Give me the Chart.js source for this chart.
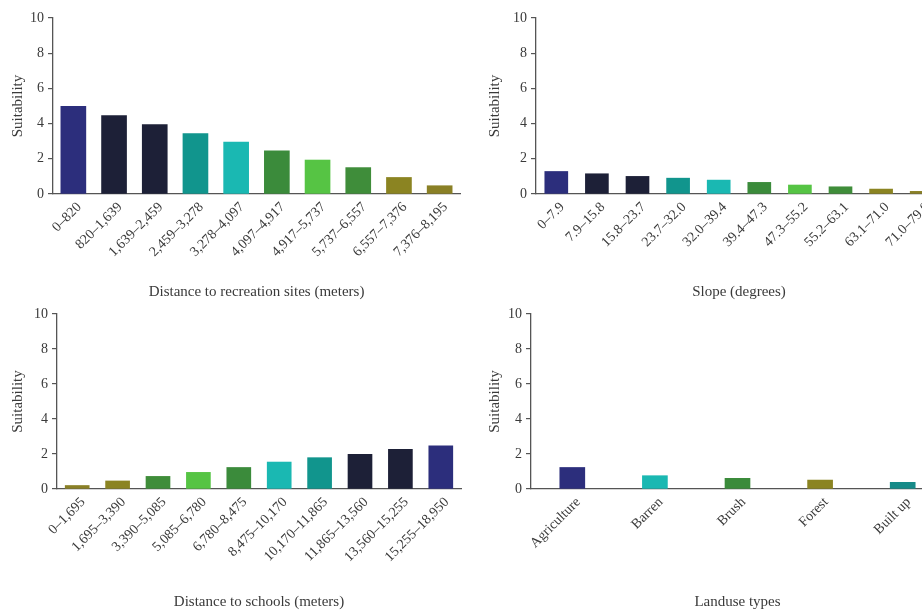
<!DOCTYPE html>
<html>
<head>
<meta charset="utf-8">
<script src="https://cdn.jsdelivr.net/npm/chart.js@4/dist/chart.umd.min.js"></script>
<style>
  html, body { margin: 0; padding: 0; background: #ffffff; overflow: hidden; width: 922px; height: 610px; }
  canvas { position: absolute; }
</style>
</head>
<body>
<canvas id="recreation" style="left:0px;top:0px;width:465px;height:305px" width="465" height="305"></canvas>
<canvas id="slope" style="left:460px;top:0px;width:490px;height:305px" width="490" height="305"></canvas>
<canvas id="schools" style="left:0px;top:300px;width:465px;height:315px" width="465" height="315"></canvas>
<canvas id="landuse" style="left:460px;top:300px;width:488px;height:315px" width="488" height="315"></canvas>
<script>
// Suitability by distance to recreation sites (meters)
const recreationLabels = ['0–820', '820–1,639', '1,639–2,459', '2,459–3,278', '3,278–4,097',
  '4,097–4,917', '4,917–5,737', '5,737–6,557', '6,557–7,376', '7,376–8,195'];
const recreationValues = [4.98, 4.45, 3.95, 3.43, 2.95, 2.45, 1.93, 1.5, 0.94, 0.47];

// Suitability by slope (degrees)
const slopeLabels = ['0–7.9', '7.9–15.8', '15.8–23.7', '23.7–32.0', '32.0–39.4',
  '39.4–47.3', '47.3–55.2', '55.2–63.1', '63.1–71.0', '71.0–79.0'];
const slopeValues = [1.28, 1.15, 1.0, 0.9, 0.79, 0.66, 0.51, 0.41, 0.28, 0.15];

// Suitability by distance to schools (meters)
const schoolLabels = ['0–1,695', '1,695–3,390', '3,390–5,085', '5,085–6,780', '6,780–8,475',
  '8,475–10,170', '10,170–11,865', '11,865–13,560', '13,560–15,255', '15,255–18,950'];
const schoolValues = [0.2, 0.46, 0.72, 0.95, 1.23, 1.54, 1.79, 1.98, 2.26, 2.47];

// Suitability by landuse type
const landuseLabels = ['Agriculture', 'Barren', 'Brush', 'Forest', 'Built up'];
const landuseValues = [1.23, 0.76, 0.61, 0.51, 0.38];

const yTicks = [0, 2, 4, 6, 8, 10];

// class palette
const NAVY = '#2c2e7c', DARK = '#1d2037', TEAL = '#11958d', CYAN = '#1ab8b2',
      GREEN = '#3b8b3b', LIGHT = '#56c444', GREEN2 = '#3f8d3a', OLIVE = '#8b8422',
      OLIVE2 = '#8a8026', BUILT = '#168a88';

const rampDown = [NAVY, DARK, DARK, TEAL, CYAN, GREEN, LIGHT, GREEN2, OLIVE, OLIVE2];
const rampUp = [OLIVE2, OLIVE, GREEN2, LIGHT, GREEN, CYAN, TEAL, DARK, DARK, NAVY];
const landuseColors = [NAVY, CYAN, GREEN, OLIVE, BUILT];

const FONT = "'Liberation Serif', 'Times New Roman', serif";
const AXIS = '#555555';
const TEXT = '#3a3a3a';

function panel(id, labels, values, colors, xTitle, cfg) {
  new Chart(document.getElementById(id), {
    type: 'bar',
    data: {
      labels: labels,
      datasets: [{ data: values, backgroundColor: colors, barThickness: cfg.bar, borderWidth: 0 }]
    },
    options: {
      responsive: false,
      animation: false,
      devicePixelRatio: 1,
      layout: { padding: cfg.pad },
      plugins: { legend: { display: false }, tooltip: { enabled: false } },
      scales: {
        x: {
          grid: { display: false, drawTicks: false },
          border: { display: true, color: AXIS, width: 1.3 },
          ticks: { minRotation: 45, maxRotation: 45, autoSkip: false, padding: 5, labelOffset: 6,
                   color: TEXT, font: { family: FONT, size: 14 } },
          title: { display: true, text: xTitle, color: TEXT, padding: { top: 4, bottom: 4 },
                   font: { family: FONT, size: 15 } },
          afterFit: s => { s.height = cfg.xh; }
        },
        y: {
          min: 0, max: 10,
          afterBuildTicks: s => { s.ticks = yTicks.map(v => ({ value: v })); },
          grid: { drawOnChartArea: false, drawTicks: true, tickLength: 5, color: AXIS, lineWidth: 1.2 },
          border: { display: true, color: AXIS, width: 1.3 },
          ticks: { padding: 4, color: TEXT, font: { family: FONT, size: 14 } },
          title: { display: true, text: 'Suitability', color: TEXT, padding: { top: 4, bottom: 4 },
                   font: { family: FONT, size: 15 } },
          afterFit: s => { s.width = cfg.yw; }
        }
      }
    }
  });
}

panel('recreation', recreationLabels, recreationValues, rampDown,
  'Distance to recreation sites (meters)',
  { pad: { left: 5, top: 18, right: 5, bottom: 0 }, yw: 48, xh: 111, bar: 25 });

panel('slope', slopeLabels, slopeValues, rampDown, 'Slope (degrees)',
  { pad: { left: 22, top: 18, right: 8, bottom: 0 }, yw: 54, xh: 111, bar: 23 });

panel('schools', schoolLabels, schoolValues, rampUp, 'Distance to schools (meters)',
  { pad: { left: 5, top: 14, right: 4, bottom: 0 }, yw: 52, xh: 126, bar: 24 });

panel('landuse', landuseLabels, landuseValues, landuseColors, 'Landuse types',
  { pad: { left: 22, top: 14, right: 4, bottom: 0 }, yw: 49, xh: 126, bar: 25 });
</script>
</body>
</html>
